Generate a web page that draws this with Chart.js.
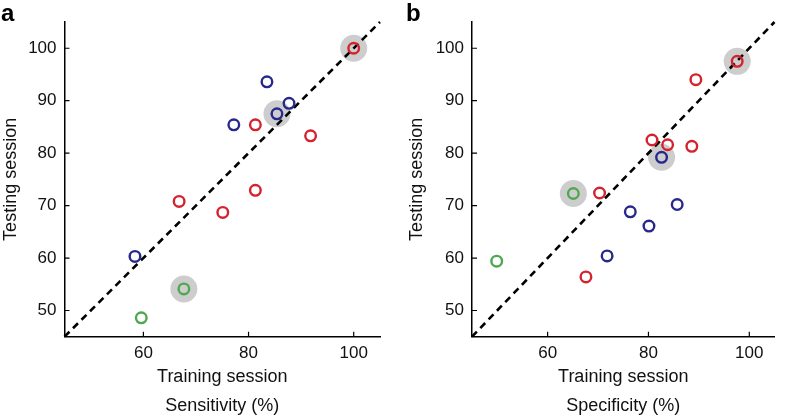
<!DOCTYPE html>
<html>
<head>
<meta charset="utf-8">
<script src="https://cdn.jsdelivr.net/npm/chart.js@4.4.1/dist/chart.umd.min.js"></script>
<style>
    html, body { margin: 0; padding: 0; background: #fff; }
    body { width: 788px; height: 417px; position: relative; overflow: hidden; font-family: "Liberation Sans", Arial, sans-serif; }
    .painel { position: absolute; top: 0; width: 394px; height: 417px; }
    .letra { position: absolute; top: 1px; font-size: 24px; line-height: 24px; font-weight: bold; color: #000; }
</style>
</head>
<body>
<div class="painel" style="left:0"><canvas id="chartSens"></canvas></div>
<div class="painel" style="left:394px"><canvas id="chartSpec"></canvas></div>
<div class="letra" style="left:1px">a</div>
<div class="letra" style="left:406px">b</div>

<script>
// eixos
const axisMin = 45;
const axisMax = 105;
const xTicks = [60, 80, 100];
const yTicks = [50, 60, 70, 80, 90, 100];
const diagX = [45, 105];
const diagY = [45, 105];

// a - sensibilidade
const sensRedX = [100, 81.3, 91.8, 81.3, 66.8, 75.1];
const sensRedY = [100, 85.4, 83.3, 72.9, 70.8, 68.7];
const sensBlueX = [83.5, 87.7, 85.4, 77.2, 58.4];
const sensBlueY = [93.6, 89.5, 87.5, 85.4, 60.3];
const sensGreenX = [67.7, 59.6];
const sensGreenY = [54.1, 48.6];
const sensHighX = [100, 85.4, 67.7];
const sensHighY = [100, 87.5, 54.1];

// b - especificidade
const specRedX = [97.6, 89.4, 80.7, 83.8, 88.6, 70.3, 67.6];
const specRedY = [97.5, 94.0, 82.5, 81.6, 81.3, 72.4, 56.4];
const specBlueX = [82.6, 85.7, 76.4, 80.1, 71.8];
const specBlueY = [79.2, 70.2, 68.8, 66.1, 60.4];
const specGreenX = [65.1, 49.9];
const specGreenY = [72.3, 59.4];
const specHighX = [97.6, 82.6, 65.1];
const specHighY = [97.5, 79.2, 72.3];

const cores = { red: '#d2232f', blue: '#27288b', green: '#4fa84f', high: '#cdcdcd' };

const pts = (xs, ys) => xs.map((x, i) => ({ x: x, y: ys[i] }));

// marcas pequenas para dentro do eixo
const innerTicks = {
    id: 'innerTicks',
    afterDraw(chart) {
        const ctx = chart.ctx;
        const { x, y } = chart.scales;
        ctx.save();
        ctx.strokeStyle = '#000';
        ctx.lineWidth = 1.2;
        ctx.beginPath();
        xTicks.forEach(v => {
            const px = x.getPixelForValue(v);
            ctx.moveTo(px, y.bottom);
            ctx.lineTo(px, y.bottom - 5);
        });
        yTicks.forEach(v => {
            const py = y.getPixelForValue(v);
            ctx.moveTo(x.left, py);
            ctx.lineTo(x.left + 5, py);
        });
        ctx.stroke();
        ctx.restore();
    }
};

const ring = (label, data, color) => ({
    label: label,
    data: data,
    order: 1,
    pointStyle: 'circle',
    pointRadius: 5.3,
    borderWidth: 2.4,
    borderColor: color,
    backgroundColor: 'transparent',
    clip: false
});

const createChart = (canvasId, cfg) => {
    const ctx = document.getElementById(canvasId).getContext('2d');
    const font = { family: '"Liberation Sans", Arial, sans-serif' };

    return new Chart(ctx, {
        type: 'scatter',
        data: {
            datasets: [
                ring('red', pts(cfg.redX, cfg.redY), cores.red),
                ring('blue', pts(cfg.blueX, cfg.blueY), cores.blue),
                ring('green', pts(cfg.greenX, cfg.greenY), cores.green),
                {
                    label: 'diag',
                    data: pts(diagX, diagY),
                    order: 2,
                    showLine: true,
                    borderColor: '#000',
                    borderWidth: 2.6,
                    borderDash: [7, 5],
                    pointRadius: 0,
                    clip: false
                },
                {
                    label: 'destaque',
                    data: pts(cfg.highX, cfg.highY),
                    order: 3,
                    pointRadius: 13.5,
                    borderWidth: 0,
                    backgroundColor: cores.high,
                    clip: false
                }
            ]
        },
        options: {
            responsive: true,
            maintainAspectRatio: false,
            animation: false,
            events: [],
            layout: { padding: { left: 0, right: cfg.padRight, top: 22, bottom: 0 } },
            plugins: {
                legend: { display: false },
                tooltip: { enabled: false }
            },
            scales: {
                x: {
                    type: 'linear',
                    min: axisMin,
                    max: axisMax,
                    grid: { display: false, drawTicks: false },
                    border: { display: true, color: '#000', width: 1.5 },
                    afterBuildTicks: s => { s.ticks = xTicks.map(v => ({ value: v })); },
                    afterFit: s => { s.height = 80.3; },
                    ticks: { color: '#111', padding: 6, font: { ...font, size: 17 } },
                    title: {
                        display: true,
                        text: ['Training session', cfg.caption],
                        color: '#111',
                        font: { ...font, size: 18, lineHeight: '29px' },
                        padding: { top: 0, bottom: -4 }
                    }
                },
                y: {
                    type: 'linear',
                    min: axisMin,
                    max: axisMax,
                    grid: { display: false, drawTicks: false },
                    border: { display: true, color: '#000', width: 1.5 },
                    afterBuildTicks: s => { s.ticks = yTicks.map(v => ({ value: v })); },
                    afterFit: s => { s.width = cfg.yWidth; },
                    ticks: { color: '#111', padding: 8, font: { ...font, size: 17 } },
                    title: {
                        display: true,
                        text: 'Testing session',
                        color: '#111',
                        font: { ...font, size: 18 },
                        padding: { top: cfg.titlePad, bottom: 0 }
                    }
                }
            }
        },
        plugins: [innerTicks]
    });
};

createChart('chartSens', {
    redX: sensRedX, redY: sensRedY,
    blueX: sensBlueX, blueY: sensBlueY,
    greenX: sensGreenX, greenY: sensGreenY,
    highX: sensHighX, highY: sensHighY,
    caption: 'Sensitivity (%)',
    yWidth: 64.5, padRight: 14, titlePad: 0
});

createChart('chartSpec', {
    redX: specRedX, redY: specRedY,
    blueX: specBlueX, blueY: specBlueY,
    greenX: specGreenX, greenY: specGreenY,
    highX: specHighX, highY: specHighY,
    caption: 'Specificity (%)',
    yWidth: 78, padRight: 1, titlePad: 12
});
</script>
</body>
</html>
